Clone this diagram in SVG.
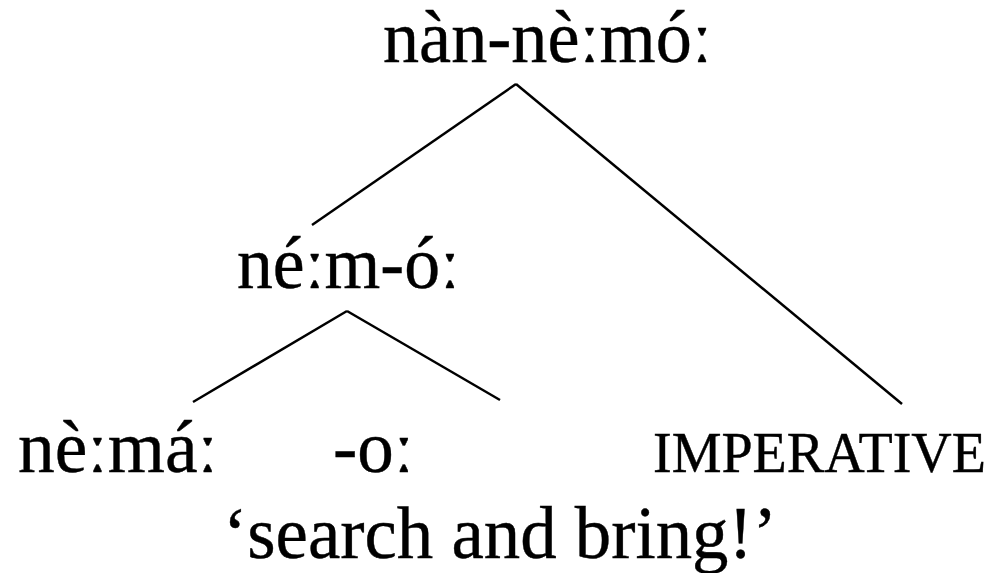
<svg xmlns="http://www.w3.org/2000/svg" width="996" height="573" viewBox="0 0 996 573">
<style>
text{font-family:"Liberation Serif","Times New Roman",serif;font-size:73px;fill:#000;stroke:#000;stroke-width:0.4}
.sc{font-size:56px}
line{stroke:#000;stroke-width:2.5;stroke-linecap:butt}
</style>
<rect width="996" height="573" fill="#fff"/>
<g id="connectors">
<line x1="516" y1="84" x2="312" y2="225"/>
<line x1="516" y1="84" x2="902" y2="404"/>
<line x1="347" y1="311" x2="193" y2="402"/>
<line x1="347" y1="311" x2="500" y2="400"/>
</g>
<g id="root"><text x="383" y="62" textLength="329" lengthAdjust="spacingAndGlyphs">nàn-nèːmóː</text></g>
<g id="stem"><text x="237" y="288" textLength="223" lengthAdjust="spacingAndGlyphs">néːm-óː</text></g>
<g id="verb"><text x="18" y="472" textLength="200" lengthAdjust="spacingAndGlyphs">nèːmáː</text></g>
<g id="suffix"><text x="333" y="472">-oː</text></g>
<g id="imperative"><text class="sc" x="653" y="472" textLength="333" lengthAdjust="spacingAndGlyphs">IMPERATIVE</text></g>
<g id="gloss"><text x="223" y="558" textLength="554" lengthAdjust="spacingAndGlyphs">‘search and bring!’</text></g>
</svg>
